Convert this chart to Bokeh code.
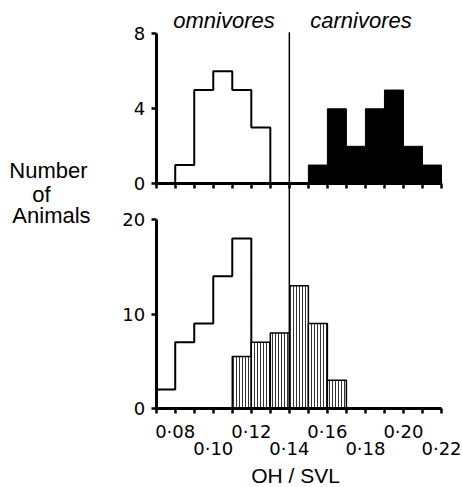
from bokeh.plotting import figure
from bokeh.models import Range1d, LinearAxis, FixedTicker
from bokeh.core.properties import value
from bokeh.embed import file_html
from bokeh.resources import INLINE

# ---------------- data ----------------
bin_width = 0.01
x_ticks = [0.07, 0.08, 0.09, 0.10, 0.11, 0.12, 0.13, 0.14, 0.15, 0.16,
           0.17, 0.18, 0.19, 0.20, 0.21, 0.22]
row1_ticks = [0.08, 0.12, 0.16, 0.20]
row1_labels = ["0·08", "0·12", "0·16", "0·20"]
row2_ticks = [0.10, 0.14, 0.18, 0.22]
row2_labels = ["0·10", "0·14", "0·18", "0·22"]
top_y_ticks = [0, 4, 8]
bot_y_ticks = [0, 10, 20]

top_omni_left = [0.08, 0.09, 0.10, 0.11, 0.12]
top_omni_count = [1, 5, 6, 5, 3]
top_carn_left = [0.15, 0.16, 0.17, 0.18, 0.19, 0.20, 0.21]
top_carn_count = [1, 4, 2, 4, 5, 2, 1]

bot_omni_left = [0.07, 0.08, 0.09, 0.10, 0.11]
bot_omni_count = [2, 7, 9, 14, 18]
bot_carn_left = [0.11, 0.12, 0.13, 0.14, 0.15, 0.16]
bot_carn_count = [5.5, 7, 8, 13, 9, 3]

divider_x = 0.14
group_labels = ["omnivores", "carnivores"]
y_title_lines = ["Number", "of", "Animals"]
x_title = "OH / SVL"


def outline(lefts, counts, w):
    xs, ys = [lefts[0]], [0]
    for l, c in zip(lefts, counts):
        xs += [l, l + w]
        ys += [c, c]
    xs.append(lefts[-1] + w)
    ys.append(0)
    return xs, ys


TXT_FONT = value("Liberation Sans")

p = figure(width=462, height=487, title=None,
           x_range=Range1d(-0.01186, 0.23104),
           y_range=Range1d(-8.360, 43.175),
           x_axis_location=None, y_axis_location=None,
           toolbar_location=None, output_backend="svg",
           min_border=0, outline_line_color=None,
           background_fill_color="white", border_fill_color="white")
p.extra_y_ranges = {"top": Range1d(-16.197, 9.776)}
for g in p.grid:
    g.visible = False


def axis_common(ax):
    ax.axis_line_width = 3
    ax.axis_line_color = "black"
    ax.major_tick_line_width = 2.5
    ax.major_tick_line_color = "black"
    ax.major_tick_out = 5
    ax.major_tick_in = 0
    ax.minor_tick_line_color = None
    ax.major_label_text_font = "DejaVu Sans"
    ax.major_label_text_font_size = "18px"
    ax.major_label_text_color = "black"


# ---- bottom panel glyphs ----
ox, oy = outline(bot_omni_left, bot_omni_count, bin_width)
p.line(ox, oy, line_color="black", line_width=2)
p.quad(left=bot_carn_left, right=[l + bin_width for l in bot_carn_left],
       bottom=0, top=bot_carn_count, fill_color="white", line_color="black",
       line_width=1.5, hatch_pattern="vertical_line", hatch_scale=3,
       hatch_weight=1, hatch_color="#333333")

# ---- top panel glyphs ----
tx, ty = outline(top_omni_left, top_omni_count, bin_width)
p.line(tx, ty, line_color="black", line_width=2, y_range_name="top")
p.quad(left=top_carn_left, right=[l + bin_width for l in top_carn_left],
       bottom=0, top=top_carn_count, fill_color="black", line_color="black",
       line_width=1, y_range_name="top")

# ---- divider ----
div_base = bot_carn_count[bot_carn_left.index(divider_x)]
p.segment(x0=[divider_x], y0=[div_base], x1=[divider_x], y1=[39.82],
          line_color="black", line_width=1.5)

# ---- axes: bottom panel ----
row1_over = {t: "" for t in x_ticks}
row1_over.update(dict(zip(row1_ticks, row1_labels)))
ax_b = LinearAxis(ticker=FixedTicker(ticks=x_ticks), fixed_location=0,
                  bounds=(x_ticks[0], x_ticks[-1]),
                  major_label_overrides=row1_over)
axis_common(ax_b)
ax_b.major_label_standoff = 8
p.add_layout(ax_b, "below")

ax_r2 = LinearAxis(ticker=FixedTicker(ticks=row2_ticks), fixed_location=0,
                   major_label_overrides=dict(zip(row2_ticks, row2_labels)))
axis_common(ax_r2)
ax_r2.axis_line_color = None
ax_r2.major_tick_line_color = None
ax_r2.major_label_standoff = 25
p.add_layout(ax_r2, "below")

ay_b = LinearAxis(ticker=FixedTicker(ticks=bot_y_ticks),
                  fixed_location=x_ticks[0], bounds=(0, 20))
axis_common(ay_b)
ay_b.major_label_standoff = 6
p.add_layout(ay_b, "left")

# ---- axes: top panel ----
ax_t = LinearAxis(ticker=FixedTicker(ticks=x_ticks), fixed_location=0,
                  y_range_name="top", bounds=(x_ticks[0], x_ticks[-1]),
                  major_label_overrides={t: "" for t in x_ticks})
axis_common(ax_t)
p.add_layout(ax_t, "below")

ay_t = LinearAxis(ticker=FixedTicker(ticks=top_y_ticks), y_range_name="top",
                  fixed_location=x_ticks[0], bounds=(0, 8))
axis_common(ay_t)
ay_t.major_label_standoff = 6
p.add_layout(ay_t, "left")

# ---- texts ----
p.text(x=[0.10565, 0.17768], y=[8.69, 8.69], text=group_labels,
       text_font=TXT_FONT, text_font_style="italic", text_font_size="22px",
       text_align="center", text_baseline="alphabetic", text_color="black",
       y_range_name="top")
p.text(x=[0.01337, 0.00970, 0.01495], y=[25.14, 22.68, 20.39],
       text=y_title_lines, text_font=TXT_FONT, text_font_size="22px",
       text_align="center", text_baseline="alphabetic", text_color="black")
p.text(x=[0.14324], y=[-7.09], text=[x_title], text_font=TXT_FONT,
       text_font_size="21px", text_align="center", text_baseline="alphabetic",
       text_color="black")

open("out.html", "w").write(file_html(p, INLINE))
